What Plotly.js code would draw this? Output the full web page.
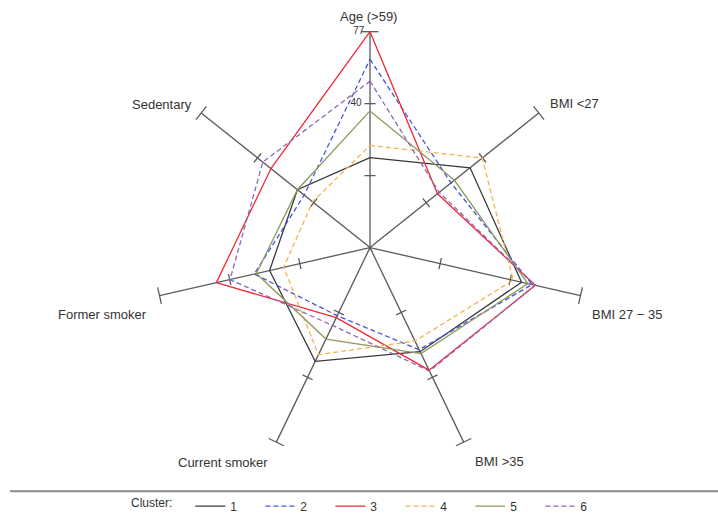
<!DOCTYPE html>
<html>
<head>
<meta charset="utf-8">
<script src="https://cdn.plot.ly/plotly-2.35.2.min.js"></script>
<style>html,body{margin:0;padding:0;background:#fff}#chart{width:718px;height:521px}</style>
</head>
<body>
<div id="chart"></div>
<script>
// Axes (clockwise from top)
const categories = ['Age (>59)', 'BMI <27', 'BMI 27 \u2212 35', 'BMI >35', 'Current smoker', 'Former smoker', 'Sedentary'];
// Values as a fraction of each spoke's length
const cluster1 = [0.417, 0.593, 0.72, 0.535, 0.585, 0.477, 0.43];
const cluster2 = [0.872, 0.48, 0.77, 0.525, 0.35, 0.55, 0.39];
const cluster3 = [1.0, 0.40, 0.785, 0.63, 0.36, 0.73, 0.587];
const cluster4 = [0.473, 0.665, 0.68, 0.48, 0.55, 0.41, 0.34];
const cluster5 = [0.633, 0.50, 0.75, 0.545, 0.47, 0.54, 0.43];
const cluster6 = [0.771, 0.41, 0.785, 0.635, 0.40, 0.665, 0.635];
const clusterNames = ['1', '2', '3', '4', '5', '6'];
// Age axis labels
const ageTickVals = [2 / 3, 1];
const ageTickText = ['40', '77'];
const spokeTicks = [1 / 3, 2 / 3];

const series = [cluster1, cluster2, cluster3, cluster4, cluster5, cluster6];
const styles = [
  {color: '#3a3a3a', dash: 'solid'},
  {color: '#4655e0', dash: '5px,3px'},
  {color: '#ee2a36', dash: 'solid'},
  {color: '#f4b451', dash: '5px,3px'},
  {color: '#8d9a5c', dash: 'solid'},
  {color: '#9166b4', dash: '5px,3px'}
];
const axisColor = '#5a5a5a';
const fontFam = 'Liberation Sans, Arial, sans-serif';
const n = categories.length;
const NB = '\u00a0';

const traces = [];
// spokes
const spokeR = [], spokeT = [];
categories.forEach(c => { spokeR.push(0, 1, null); spokeT.push(c, c, c); });
traces.push({type: 'scatterpolar', r: spokeR, theta: spokeT, mode: 'lines',
  line: {color: axisColor, width: 1.3}, showlegend: false, hoverinfo: 'skip', connectgaps: false});
// tick marks
const tR = [], tT = [], tA = [];
categories.forEach((c, i) => spokeTicks.forEach(v => { tR.push(v); tT.push(c); tA.push(i * 360 / n); }));
traces.push({type: 'scatterpolar', r: tR, theta: tT, mode: 'markers', cliponaxis: false,
  marker: {symbol: 'line-ew', size: 8, angle: tA, line: {color: axisColor, width: 1.3}},
  showlegend: false, hoverinfo: 'skip'});
// end caps
traces.push({type: 'scatterpolar', r: categories.map(() => 1), theta: categories, mode: 'markers', cliponaxis: false,
  marker: {symbol: 'line-ew', size: 12, angle: categories.map((c, i) => i * 360 / n), line: {color: axisColor, width: 1.3}},
  showlegend: false, hoverinfo: 'skip'});
// Age axis value labels
traces.push({type: 'scatterpolar', r: ageTickVals, theta: ageTickVals.map(() => categories[0]), mode: 'text',
  text: ageTickText.map((t, i) => t + (i === 0 ? NB + NB + NB : NB + NB)), textposition: 'middle left', cliponaxis: false,
  textfont: {family: fontFam, size: 10, color: '#333'}, showlegend: false, hoverinfo: 'skip'});
// clusters
series.forEach((s, k) => {
  traces.push({type: 'scatterpolar', name: clusterNames[k], r: s.concat([s[0]]),
    theta: categories.concat([categories[0]]), mode: 'lines', cliponaxis: false,
    line: {color: styles[k].color, dash: styles[k].dash, width: 1.3}});
});

const W = 718, H = 521;
const cx = 370, cy = 250, R = 218;
// label pixel positions (centres)
const labelPix = [[368, 17], [574, 105], [627, 318], [499, 466], [223, 467], [102, 318], [162, 106]];
const annotations = categories.map((c, i) => ({
  text: c, xref: 'paper', yref: 'paper', x: labelPix[i][0] / W, y: 1 - labelPix[i][1] / H,
  xanchor: 'center', yanchor: 'middle', showarrow: false,
  font: {family: fontFam, size: 13, color: '#333'}
}));

const layout = {
  width: W, height: H,
  margin: {l: 0, r: 0, t: 0, b: 0},
  paper_bgcolor: '#fff',
  font: {family: fontFam, size: 12, color: '#333'},
  polar: {
    domain: {x: [(cx - R) / W, (cx + R) / W], y: [(H - cy - R) / H, (H - cy + R) / H]},
    bgcolor: 'rgba(0,0,0,0)',
    radialaxis: {range: [0, 1], angle: 90, showline: false, showgrid: false, ticks: '', showticklabels: false},
    angularaxis: {type: 'category', categoryarray: categories, rotation: 90, direction: 'clockwise',
      showline: false, showgrid: false, ticks: '', showticklabels: false}
  },
  showlegend: true,
  legend: {orientation: 'h', x: 129 / W, xanchor: 'left', y: 1 - 511 / H, yanchor: 'middle',
    title: {text: 'Cluster:' + NB + NB + NB, side: 'left', font: {size: 12, color: '#333'}},
    font: {size: 12, color: '#333'}, itemwidth: 30, entrywidth: 25, tracegroupgap: 0, bgcolor: 'rgba(0,0,0,0)'},
  shapes: [{type: 'line', xref: 'paper', yref: 'paper', x0: 10 / W, x1: 1, y0: 1 - 496 / H, y1: 1 - 496 / H,
    line: {color: '#8a8a8a', width: 2}}],
  annotations: annotations
};

Plotly.newPlot('chart', traces, layout, {displayModeBar: false, staticPlot: true});
</script>
</body>
</html>
